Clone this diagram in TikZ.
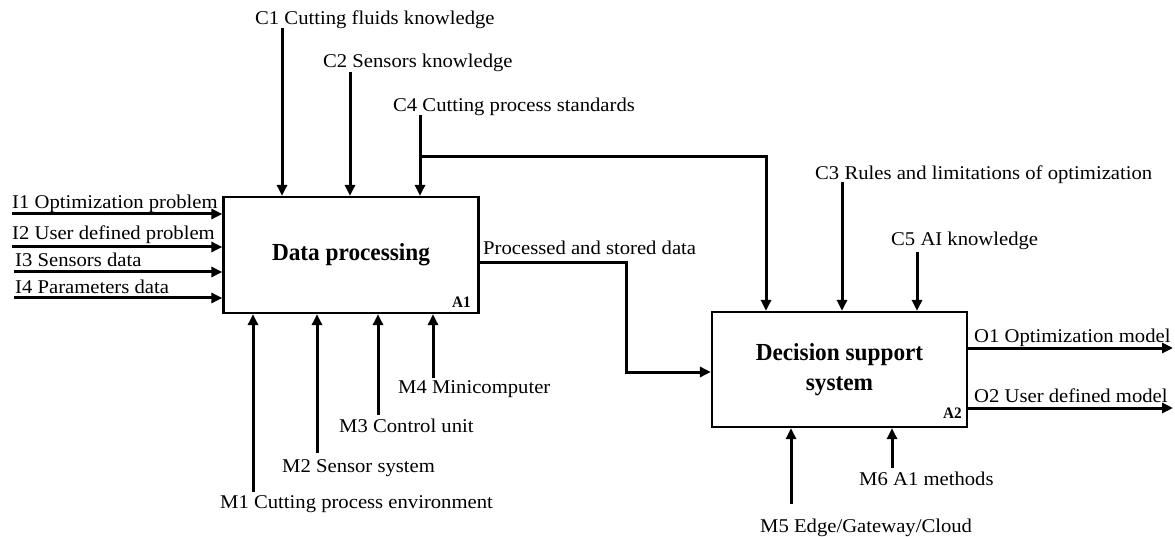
\documentclass[tikz,border=0pt]{standalone}
\usepackage{fontspec}
\setmainfont[FakeStretch=1.06,BoldFeatures={FakeStretch=0.95}]{Liberation Serif}
\usetikzlibrary{arrows.meta,calc}
\begin{document}
\begin{tikzpicture}[x=1pt,y=-1pt,
  lab/.style={anchor=base west, inner sep=0pt, font=\fontsize{19.5}{22}\selectfont},
  box/.style={draw, line width=2.2pt, inner sep=0pt, font=\fontsize{24.5}{30}\selectfont\bfseries, align=center},
  arr/.style={line width=3pt, -{Triangle[length=11pt,width=10pt]}},
  tag/.style={anchor=base east, inner sep=0pt, font=\fontsize{16}{18}\selectfont\bfseries}]
\useasboundingbox (0,0) rectangle (1175,537);
% boxes
\node[box, minimum width=255pt, minimum height=116pt] (A1) at (351,255) {Data processing};
\node[box, minimum width=255pt, minimum height=115pt] (A2) at (839.5,369.5) {Decision support\\system};
\node[tag] (t1) at (471,307) {A1};
\node[tag] (t2) at (962,418) {A2};
% inputs
\node[lab] (I1) at (12,209) {I1 Optimization problem};
\node[lab] (I2) at (12,240) {I2 User defined problem};
\node[lab] (I3) at (15,267) {I3 Sensors data};
\node[lab] (I4) at (15,294) {I4 Parameters data};
\coordinate (i1s) at (12,214);
\coordinate (i2s) at (12,247);
\coordinate (i3s) at (14,272);
\coordinate (i4s) at (14,298);
\draw[arr] (i1s) -- (i1s -| A1.west);
\draw[arr] (i2s) -- (i2s -| A1.west);
\draw[arr] (i3s) -- (i3s -| A1.west);
\draw[arr] (i4s) -- (i4s -| A1.west);
% controls
\node[lab] (C1) at (255,25) {C1 Cutting fluids knowledge};
\node[lab] (C2) at (323,68) {C2 Sensors knowledge};
\node[lab] (C4) at (393,112) {C4 Cutting process standards};
\node[lab] (C3) at (815,180) {C3 Rules and limitations of optimization};
\node[lab] (C5) at (891,246) {C5 AI knowledge};
\coordinate (c1s) at (282,28);
\coordinate (c2s) at (350,72);
\coordinate (c4s) at (420,115);
\coordinate (c4j) at (420,157);
\coordinate (c4k) at (766,157);
\coordinate (c3s) at (842,182);
\coordinate (c5s) at (917,252);
\draw[arr] (c1s) -- (c1s |- A1.north);
\draw[arr] (c2s) -- (c2s |- A1.north);
\draw[arr] (c4s) -- (c4s |- A1.north);
\draw[arr] (c4j) -- (c4k) -- (c4k |- A2.north);
\draw[arr] (c3s) -- (c3s |- A2.north);
\draw[arr] (c5s) -- (c5s |- A2.north);
% processed data
\node[lab] (P) at (483,255) {Processed and stored data};
\coordinate (p2) at (626,372);
\draw[arr] ([yshift=-8pt]A1.east) -| (p2) -- (p2 -| A2.west);
% mechanisms
\node[lab] (M1) at (220,508) {M1 Cutting process environment};
\node[lab] (M2) at (282,472) {M2 Sensor system};
\node[lab] (M3) at (339,432) {M3 Control unit};
\node[lab] (M4) at (398,393) {M4 Minicomputer};
\node[lab] (M5) at (760,532) {M5 Edge/Gateway/Cloud};
\node[lab] (M6) at (859,485) {M6 A1 methods};
\coordinate (m1s) at (253,492);
\coordinate (m2s) at (317,453);
\coordinate (m3s) at (378,415);
\coordinate (m4s) at (433,378);
\coordinate (m5s) at (791,504);
\coordinate (m6s) at (892,468);
\draw[arr] (m1s) -- (m1s |- A1.south);
\draw[arr] (m2s) -- (m2s |- A1.south);
\draw[arr] (m3s) -- (m3s |- A1.south);
\draw[arr] (m4s) -- (m4s |- A1.south);
\draw[arr] (m5s) -- (m5s |- A2.south);
\draw[arr] (m6s) -- (m6s |- A2.south);
% outputs
\node[lab] (O1) at (974,342) {O1 Optimization model};
\node[lab] (O2) at (974,402) {O2 User defined model};
\coordinate (o1e) at (1173,348);
\coordinate (o2e) at (1173,408);
\draw[arr] (o1e -| A2.east) -- (o1e);
\draw[arr] (o2e -| A2.east) -- (o2e);
\end{tikzpicture}
\end{document}
